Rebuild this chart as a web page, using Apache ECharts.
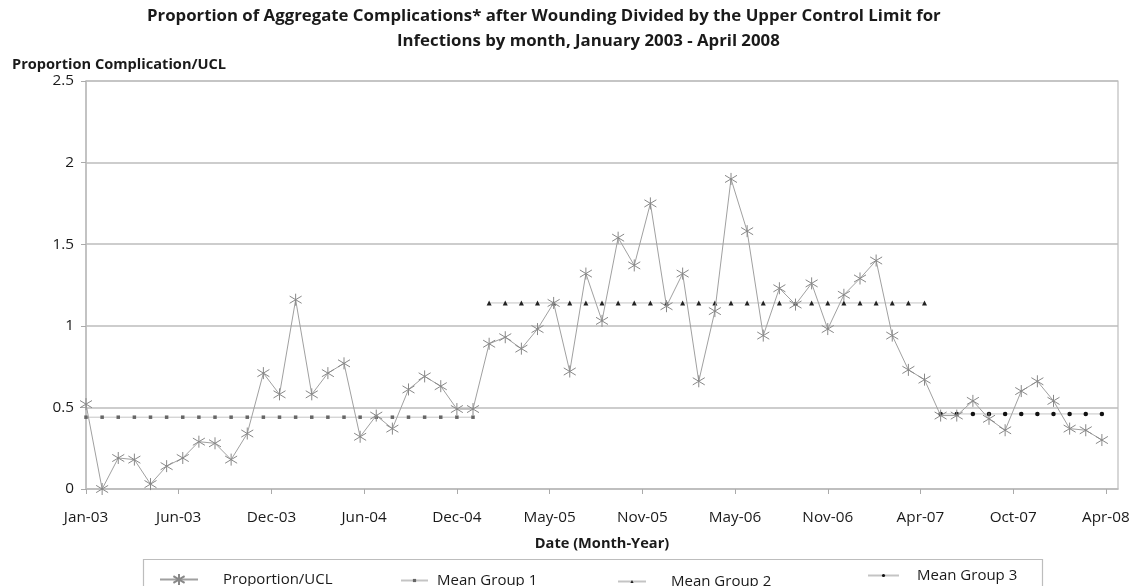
<!DOCTYPE html>
<html>
<head>
<meta charset="utf-8">
<script src="https://cdn.jsdelivr.net/npm/echarts@6/dist/echarts.min.js"></script>
<style>html,body{margin:0;padding:0;background:#fff}#c{width:1133px;height:586px}</style>
</head>
<body>
<div id="c"></div>
<script>
const months = ['Jan-03','Feb-03','Mar-03','Apr-03','May-03','Jun-03','Jul-03','Aug-03','Sep-03','Oct-03','Nov-03','Dec-03',
'Jan-04','Feb-04','Mar-04','Apr-04','May-04','Jun-04','Jul-04','Aug-04','Sep-04','Oct-04','Nov-04','Dec-04',
'Jan-05','Feb-05','Mar-05','Apr-05','May-05','Jun-05','Jul-05','Aug-05','Sep-05','Oct-05','Nov-05','Dec-05',
'Jan-06','Feb-06','Mar-06','Apr-06','May-06','Jun-06','Jul-06','Aug-06','Sep-06','Oct-06','Nov-06','Dec-06',
'Jan-07','Feb-07','Mar-07','Apr-07','May-07','Jun-07','Jul-07','Aug-07','Sep-07','Oct-07','Nov-07','Dec-07',
'Jan-08','Feb-08','Mar-08','Apr-08'];
const proportion = [0.52,0.00,0.19,0.18,0.03,0.14,0.19,0.29,0.28,0.18,0.34,0.71,
0.58,1.16,0.58,0.71,0.77,0.32,0.45,0.37,0.61,0.69,0.63,0.49,
0.49,0.89,0.93,0.86,0.98,1.14,0.72,1.32,1.03,1.54,1.37,1.75,
1.12,1.32,0.66,1.09,1.90,1.58,0.94,1.23,1.13,1.26,0.98,1.19,
1.29,1.40,0.94,0.73,0.67,0.45,0.45,0.54,0.43,0.36,0.60,0.66,
0.54,0.37,0.36,0.30];
const groupNames = ['Mean Group 1','Mean Group 2','Mean Group 3'];
const groupStart = ['Jan-03','Feb-05','Jun-07'];
const groupEnd = ['Jan-05','May-07','Apr-08'];
const groupMean = [0.44,1.14,0.46];
const tickLabels = ['Jan-03','Jun-03','Dec-03','Jun-04','Dec-04','May-05','Nov-05','May-06','Nov-06','Apr-07','Oct-07','Apr-08'];

const FONT = 'Open Sans';
const TICK_STEP = 5.75;
const tickValues = tickLabels.map((_, k) => k * TICK_STEP);

function groupData(g) {
  const s = months.indexOf(groupStart[g]), e = months.indexOf(groupEnd[g]);
  const out = [];
  for (let i = s; i <= e; i++) out.push([i, groupMean[g]]);
  return out;
}

const chart = echarts.init(document.getElementById('c'), null, {renderer: 'canvas'});
const groupSymbols = ['rect', 'triangle', 'circle'];
const groupSymbolSize = [3.5, 5, 4.5];
const groupSymbolColor = ['#666', '#222', '#111'];

// legend layout: [left, top, itemWidth, itemHeight, textPadLeft]
const legendLayout = [
  [159, 572, 38, 14, 20],
  [400, 573, 27, 4, 4],
  [617, 574, 28, 4, 20],
  [867, 568, 31, 4, 13]
];

const option = {
  animation: false,
  backgroundColor: '#fff',
  textStyle: {fontFamily: FONT},
  title: [
    {text: 'Proportion of Aggregate Complications* after Wounding Divided by the Upper Control Limit for', left: 147, top: 8,
     padding: 0, textStyle: {fontFamily: FONT, fontWeight: 'bold', fontSize: 16.8, color: '#1a1a1a'}},
    {text: 'Infections by month, January 2003 - April 2008', left: 397, top: 33,
     padding: 0, textStyle: {fontFamily: FONT, fontWeight: 'bold', fontSize: 16.8, color: '#1a1a1a'}}
  ],
  grid: {left: 86, right: 15, top: 81, bottom: 97, show: true, borderColor: '#bdbdbd', borderWidth: 1.2, containLabel: false},
  legend: ['Proportion/UCL'].concat(groupNames).map((n, k) => ({
    data: [n], left: legendLayout[k][0], top: legendLayout[k][1], padding: 0,
    itemWidth: legendLayout[k][2], itemHeight: legendLayout[k][3],
    textStyle: {fontFamily: FONT, fontSize: 15, color: '#1a1a1a', padding: [0, 0, 0, legendLayout[k][4]]}
  })),
  graphic: [{type: 'rect', shape: {x: 143.5, y: 559.5, width: 899, height: 40}, style: {fill: 'none', stroke: '#bdbdbd', lineWidth: 1.2}, silent: true}],
  xAxis: {
    type: 'value', min: 0, max: 64,
    name: 'Date (Month-Year)', nameLocation: 'middle', nameGap: 47,
    nameTextStyle: {fontFamily: FONT, fontWeight: 'bold', fontSize: 14.6, color: '#1a1a1a'},
    axisLine: {show: true, lineStyle: {color: '#bdbdbd', width: 1.5}},
    axisTick: {show: true, length: 5, customValues: tickValues, lineStyle: {color: '#aaa'}},
    axisLabel: {customValues: tickValues, margin: 21, fontFamily: FONT, fontSize: 15.3, color: '#1a1a1a',
      formatter: v => tickLabels[Math.round(v / TICK_STEP)] || ''},
    splitLine: {show: false}
  },
  yAxis: {
    type: 'value', min: 0, max: 2.5, interval: 0.5,
    name: 'Proportion Complication/UCL', nameLocation: 'end', nameGap: 9,
    nameTextStyle: {fontFamily: FONT, fontWeight: 'bold', fontSize: 14.6, color: '#1a1a1a', align: 'left', padding: [0, 0, 0, -74]},
    axisLine: {show: true, lineStyle: {color: '#bdbdbd', width: 1.5}},
    axisTick: {show: true, length: 5, lineStyle: {color: '#aaa'}},
    axisLabel: {margin: 12, fontFamily: FONT, fontSize: 15.3, color: '#1a1a1a', formatter: v => String(v)},
    splitLine: {show: true, lineStyle: {color: '#bdbdbd', width: 1.5}}
  },
  series: [
    {
      name: 'Proportion/UCL', type: 'line', data: proportion.map((v, i) => [i, v]),
      symbol: 'path://M5,0 L5,10 M0,2 L10,8 M0,8 L10,2', symbolSize: 12, symbolKeepAspect: true,
      itemStyle: {color: 'rgba(0,0,0,0)', borderColor: '#888', borderWidth: 1},
      lineStyle: {color: '#a0a0a0', width: 1}, z: 3
    }
  ].concat(groupNames.map((n, g) => ({
    name: n, type: 'line', data: groupData(g),
    symbol: groupSymbols[g], symbolSize: groupSymbolSize[g],
    itemStyle: {color: groupSymbolColor[g]},
    lineStyle: {color: '#c4c4c4', width: 1}, z: 2
  })))
};
chart.setOption(option);
</script>
</body>
</html>
